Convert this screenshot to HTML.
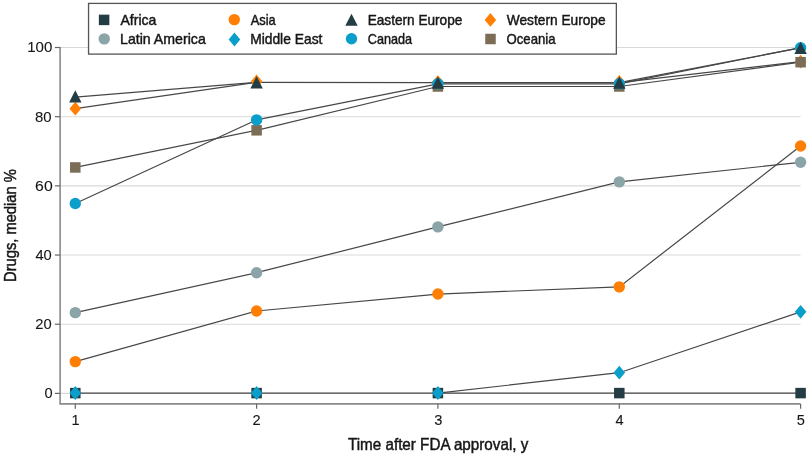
<!DOCTYPE html>
<html><head><meta charset="utf-8"><style>
html,body{margin:0;padding:0;background:#fff;overflow:hidden;}
svg{display:block;will-change:transform;}
.n{stroke-width:0.1px !important;}
.t{font-family:"Liberation Sans",sans-serif;font-size:16px;fill:#161616;stroke:#161616;stroke-width:0.45px;}
</style></head><body>
<svg width="810" height="457" viewBox="0 0 810 457">
<rect width="810" height="457" fill="#fff"/>
<line x1="61" y1="393.40" x2="800.6" y2="393.40" stroke="#d9d9d9" stroke-width="1.1"/>
<line x1="61" y1="324.22" x2="800.6" y2="324.22" stroke="#d9d9d9" stroke-width="1.1"/>
<line x1="61" y1="255.04" x2="800.6" y2="255.04" stroke="#d9d9d9" stroke-width="1.1"/>
<line x1="61" y1="185.86" x2="800.6" y2="185.86" stroke="#d9d9d9" stroke-width="1.1"/>
<line x1="61" y1="116.68" x2="800.6" y2="116.68" stroke="#d9d9d9" stroke-width="1.1"/>
<line x1="61" y1="47.50" x2="800.6" y2="47.50" stroke="#d9d9d9" stroke-width="1.1"/>
<polyline points="60.1,47 60.1,403.9 800.6,403.9" fill="none" stroke="#8a8a8a" stroke-width="1.6"/>
<line x1="54.9" y1="393.40" x2="60.1" y2="393.40" stroke="#666" stroke-width="1.2"/>
<line x1="54.9" y1="324.22" x2="60.1" y2="324.22" stroke="#666" stroke-width="1.2"/>
<line x1="54.9" y1="255.04" x2="60.1" y2="255.04" stroke="#666" stroke-width="1.2"/>
<line x1="54.9" y1="185.86" x2="60.1" y2="185.86" stroke="#666" stroke-width="1.2"/>
<line x1="54.9" y1="116.68" x2="60.1" y2="116.68" stroke="#666" stroke-width="1.2"/>
<line x1="54.9" y1="47.50" x2="60.1" y2="47.50" stroke="#666" stroke-width="1.2"/>
<line x1="75.3" y1="403.9" x2="75.3" y2="408.8" stroke="#666" stroke-width="1.2"/>
<line x1="256.6" y1="403.9" x2="256.6" y2="408.8" stroke="#666" stroke-width="1.2"/>
<line x1="437.9" y1="403.9" x2="437.9" y2="408.8" stroke="#666" stroke-width="1.2"/>
<line x1="619.3" y1="403.9" x2="619.3" y2="408.8" stroke="#666" stroke-width="1.2"/>
<line x1="800.6" y1="403.9" x2="800.6" y2="408.8" stroke="#666" stroke-width="1.2"/>
<polyline points="75.30,393.10 256.60,393.10 437.90,393.10 619.30,393.10 800.60,393.10" fill="none" stroke="#474747" stroke-width="1.2"/>
<polyline points="437.90,393.10 619.30,372.70 800.60,311.85" fill="none" stroke="#474747" stroke-width="1.2"/>
<polyline points="75.30,361.60 256.60,311.00 437.90,294.05 619.30,286.85 800.60,146.05" fill="none" stroke="#474747" stroke-width="1.2"/>
<polyline points="75.30,312.65 256.60,272.70 437.90,226.90 619.30,181.90 800.60,162.30" fill="none" stroke="#474747" stroke-width="1.2"/>
<polyline points="75.30,108.70 256.60,82.30" fill="none" stroke="#474747" stroke-width="1.2"/>
<polyline points="619.30,82.60 800.60,61.70" fill="none" stroke="#474747" stroke-width="1.2"/>
<polyline points="75.30,167.45 256.60,130.30 437.90,86.50 619.30,86.50 800.60,62.20" fill="none" stroke="#474747" stroke-width="1.2"/>
<polyline points="75.30,203.50 256.60,119.90 437.90,83.80 619.30,83.80 800.60,47.70" fill="none" stroke="#474747" stroke-width="1.2"/>
<polyline points="75.30,97.20 256.60,82.30 437.90,82.60 619.30,82.60 800.60,47.80" fill="none" stroke="#474747" stroke-width="1.2"/>
<rect x="70.05" y="387.85" width="10.5" height="10.5" fill="#243c44"/>
<rect x="251.35" y="387.85" width="10.5" height="10.5" fill="#243c44"/>
<rect x="432.65" y="387.85" width="10.5" height="10.5" fill="#243c44"/>
<rect x="614.05" y="387.85" width="10.5" height="10.5" fill="#243c44"/>
<rect x="795.35" y="387.85" width="10.5" height="10.5" fill="#243c44"/>
<polygon points="75.30,386.10 81.10,393.00 75.30,399.90 69.50,393.00" fill="#0a9fca"/>
<polygon points="256.60,386.10 262.40,393.00 256.60,399.90 250.80,393.00" fill="#0a9fca"/>
<polygon points="437.90,386.10 443.70,393.00 437.90,399.90 432.10,393.00" fill="#0a9fca"/>
<polygon points="619.30,365.80 625.10,372.70 619.30,379.60 613.50,372.70" fill="#0a9fca"/>
<polygon points="800.60,304.95 806.40,311.85 800.60,318.75 794.80,311.85" fill="#0a9fca"/>
<circle cx="75.30" cy="361.60" r="5.7" fill="#fe7f04"/>
<circle cx="256.60" cy="311.00" r="5.7" fill="#fe7f04"/>
<circle cx="437.90" cy="294.05" r="5.7" fill="#fe7f04"/>
<circle cx="619.30" cy="286.85" r="5.7" fill="#fe7f04"/>
<circle cx="800.60" cy="146.05" r="5.7" fill="#fe7f04"/>
<circle cx="75.30" cy="312.65" r="5.7" fill="#8aa4a8"/>
<circle cx="256.60" cy="272.70" r="5.7" fill="#8aa4a8"/>
<circle cx="437.90" cy="226.90" r="5.7" fill="#8aa4a8"/>
<circle cx="619.30" cy="181.90" r="5.7" fill="#8aa4a8"/>
<circle cx="800.60" cy="162.30" r="5.7" fill="#8aa4a8"/>
<polygon points="75.30,101.80 81.10,108.70 75.30,115.60 69.50,108.70" fill="#fe7f04"/>
<polygon points="256.60,74.50 262.40,81.40 256.60,88.30 250.80,81.40" fill="#fe7f04"/>
<polygon points="437.90,75.20 443.70,82.10 437.90,89.00 432.10,82.10" fill="#fe7f04"/>
<polygon points="619.30,75.10 625.10,82.00 619.30,88.90 613.50,82.00" fill="#fe7f04"/>
<polygon points="800.60,54.80 806.40,61.70 800.60,68.60 794.80,61.70" fill="#fe7f04"/>
<rect x="70.05" y="162.20" width="10.5" height="10.5" fill="#7b6d56"/>
<rect x="251.35" y="125.05" width="10.5" height="10.5" fill="#7b6d56"/>
<rect x="432.65" y="81.25" width="10.5" height="10.5" fill="#7b6d56"/>
<rect x="614.05" y="81.25" width="10.5" height="10.5" fill="#7b6d56"/>
<rect x="795.35" y="56.95" width="10.5" height="10.5" fill="#7b6d56"/>
<circle cx="75.30" cy="203.50" r="5.7" fill="#0a9fca"/>
<circle cx="256.60" cy="119.90" r="5.7" fill="#0a9fca"/>
<circle cx="437.90" cy="83.80" r="5.7" fill="#0a9fca"/>
<circle cx="619.30" cy="83.80" r="5.7" fill="#0a9fca"/>
<circle cx="800.60" cy="47.70" r="5.7" fill="#0a9fca"/>
<polygon points="75.30,90.20 81.50,102.40 69.10,102.40" fill="#243c44"/>
<polygon points="256.60,76.20 262.80,88.40 250.40,88.40" fill="#243c44"/>
<polygon points="437.90,76.50 444.10,88.70 431.70,88.70" fill="#243c44"/>
<polygon points="619.30,76.50 625.50,88.70 613.10,88.70" fill="#243c44"/>
<polygon points="800.60,41.70 806.80,53.90 794.40,53.90" fill="#243c44"/>
<rect x="88.55" y="3.4" width="527.8" height="50.7" fill="#fff" stroke="#555" stroke-width="1.3"/>
<rect x="98.85" y="14.65" width="10.5" height="10.5" fill="#243c44"/>
<circle cx="104.25" cy="38.90" r="5.7" fill="#8aa4a8"/>
<circle cx="234.30" cy="19.60" r="5.7" fill="#fe7f04"/>
<polygon points="234.45,32.60 240.25,39.50 234.45,46.40 228.65,39.50" fill="#0a9fca"/>
<polygon points="351.50,13.65 357.70,25.85 345.30,25.85" fill="#243c44"/>
<circle cx="351.50" cy="38.80" r="5.7" fill="#0a9fca"/>
<polygon points="490.40,13.00 496.20,19.90 490.40,26.80 484.60,19.90" fill="#fe7f04"/>
<rect x="485.25" y="33.75" width="10.5" height="10.5" fill="#7b6d56"/>
<text x="120.48" y="24.69" class="t" style="font-size:14.4px" textLength="35.93" lengthAdjust="spacingAndGlyphs">Africa</text>
<text x="120.03" y="44.19" class="t" style="font-size:14.4px" textLength="85.77" lengthAdjust="spacingAndGlyphs">Latin America</text>
<text x="250.74" y="24.69" class="t" style="font-size:14.4px" textLength="25.03" lengthAdjust="spacingAndGlyphs">Asia</text>
<text x="250.15" y="44.19" class="t" style="font-size:14.4px" textLength="72.25" lengthAdjust="spacingAndGlyphs">Middle East</text>
<text x="367.69" y="24.69" class="t" style="font-size:14.4px" textLength="94.65" lengthAdjust="spacingAndGlyphs">Eastern Europe</text>
<text x="367.78" y="44.19" class="t" style="font-size:14.4px" textLength="44.28" lengthAdjust="spacingAndGlyphs">Canada</text>
<text x="506.82" y="24.69" class="t" style="font-size:14.4px" textLength="98.75" lengthAdjust="spacingAndGlyphs">Western Europe</text>
<text x="506.50" y="44.19" class="t" style="font-size:14.4px" textLength="49.03" lengthAdjust="spacingAndGlyphs">Oceania</text>
<text x="44.62" y="398.20" class="t n" style="font-size:14.6px">0</text>
<text x="35.33" y="328.84" class="t n" style="font-size:14.6px" textLength="16.38" lengthAdjust="spacingAndGlyphs">20</text>
<text x="35.43" y="260.04" class="t n" style="font-size:14.6px" textLength="16.33" lengthAdjust="spacingAndGlyphs">40</text>
<text x="35.11" y="191.19" class="t n" style="font-size:14.6px" textLength="17.54" lengthAdjust="spacingAndGlyphs">60</text>
<text x="35.06" y="121.76" class="t n" style="font-size:14.6px" textLength="16.56" lengthAdjust="spacingAndGlyphs">80</text>
<text x="27.17" y="51.90" class="t n" style="font-size:14.6px" textLength="25.12" lengthAdjust="spacingAndGlyphs">100</text>
<text x="71.62" y="424.83" class="t n" style="font-size:14.6px">1</text>
<text x="252.61" y="424.71" class="t n" style="font-size:14.6px">2</text>
<text x="434.18" y="424.94" class="t n" style="font-size:14.6px">3</text>
<text x="615.47" y="424.96" class="t n" style="font-size:14.6px">4</text>
<text x="796.65" y="425.09" class="t n" style="font-size:14.6px">5</text>
<text x="348.00" y="450.30" class="t" style="font-size:15.8px" textLength="180.32" lengthAdjust="spacingAndGlyphs">Time after FDA approval, y</text>
<text x="0" y="0" transform="translate(15.50,281.90) rotate(-90)" class="t" style="font-size:15.8px" textLength="112.60" lengthAdjust="spacingAndGlyphs">Drugs, median %</text>
</svg>
</body></html>
